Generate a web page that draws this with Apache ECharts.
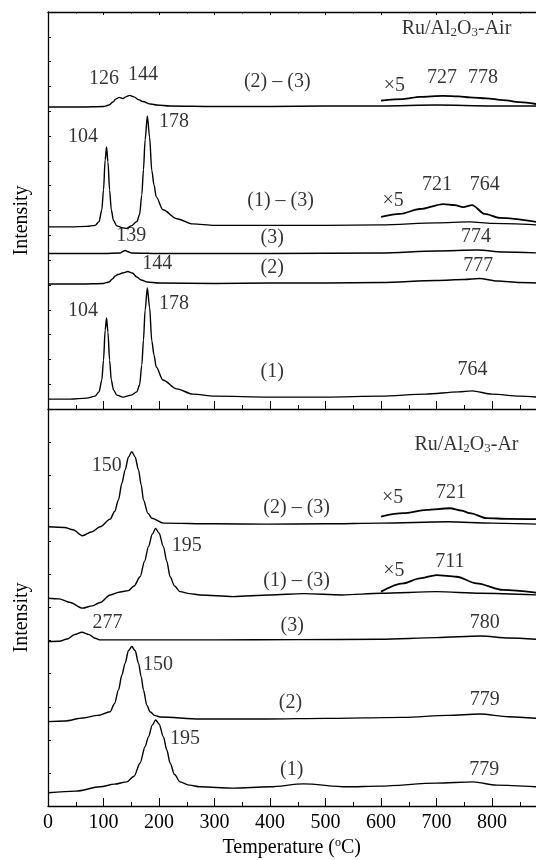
<!DOCTYPE html>
<html>
<head>
<meta charset="utf-8">
<script src="https://cdn.jsdelivr.net/npm/echarts@6/dist/echarts.min.js"></script>
<style>
html, body { margin: 0; padding: 0; background: #fff; }
#chart { width: 536px; height: 860px; }
</style>
</head>
<body>
<div id="chart"></div>
<script>
// ---- Ru/Al2O3-Air (upper panel), [temperature, intensity] ----
const air1 = [[0,0.40],[40,0.40],[70,0.44],[85,0.52],[92,0.69],[97,1.17],[100,1.97],[103,3.18],[105.5,3.67],[108,3.10],[111,1.97],[114,1.17],[118,0.77],[124,0.56],[135,0.48],[150,0.56],[160,0.69],[165,0.97],[169,1.77],[172,2.78],[175,3.99],[179,4.88],[183,4.10],[187,2.75],[191,2.18],[195,1.69],[207,1.17],[232,0.81],[261,0.60],[300,0.52],[400,0.48],[500,0.48],[600,0.52],[680,0.60],[740,0.69],[764,0.73],[800,0.60],[850,0.52],[880,0.48]];
const air2 = [[0,5.04],[60,5.04],[100,5.06],[110,5.12],[116,5.24],[121,5.36],[126,5.42],[134,5.48],[144,5.54],[152,5.48],[160,5.32],[168,5.20],[178,5.12],[200,5.08],[300,5.06],[400,5.08],[500,5.08],[600,5.10],[700,5.18],[750,5.22],[777,5.26],[810,5.16],[850,5.10],[880,5.08]];
const air3 = [[0,6.27],[100,6.27],[130,6.29],[135,6.35],[139,6.39],[143,6.35],[150,6.29],[200,6.27],[400,6.27],[600,6.29],[700,6.37],[774,6.41],[820,6.33],[880,6.29]];
const air13 = [[0,7.34],[40,7.34],[70,7.36],[85,7.40],[92,7.55],[97,8.03],[100,8.83],[103,10.04],[105.5,10.56],[108,9.96],[111,8.83],[114,8.03],[118,7.60],[124,7.38],[135,7.30],[142,7.28],[150,7.38],[160,7.55],[165,7.83],[169,8.63],[172,9.64],[175,10.85],[179,11.81],[183,10.96],[187,9.61],[191,9.04],[195,8.55],[207,8.03],[232,7.67],[261,7.46],[300,7.40],[400,7.40],[500,7.40],[600,7.42],[700,7.50],[760,7.54],[800,7.48],[880,7.42]];
const air13x5 = [[600,7.74],[634,7.86],[670,8.06],[712,8.26],[733,8.22],[748,8.14],[764,8.22],[787,7.86],[814,7.70],[880,7.54]];
const air23 = [[0,12.17],[60,12.17],[100,12.19],[110,12.25],[117,12.37],[122,12.49],[128,12.56],[135,12.51],[140,12.58],[147,12.64],[155,12.58],[163,12.47],[171,12.39],[185,12.29],[196,12.25],[220,12.21],[300,12.19],[400,12.19],[500,12.21],[600,12.21],[700,12.25],[800,12.21],[880,12.21]];
const air23x5 = [[600,12.43],[640,12.49],[670,12.58],[712,12.62],[740,12.60],[760,12.56],[790,12.52],[820,12.45],[850,12.37],[880,12.29]];

// ---- Ru/Al2O3-Ar (lower panel) ----
const ar1 = [[0,0.40],[50,0.45],[94,0.58],[120,0.66],[142,0.73],[155,0.90],[166,1.30],[175,1.80],[181,2.09],[188,2.45],[194,2.60],[200,2.48],[208,2.09],[214,1.70],[220,1.30],[228,0.95],[238,0.73],[255,0.63],[274,0.58],[333,0.54],[400,0.58],[460,0.67],[538,0.58],[598,0.60],[700,0.69],[766,0.73],[808,0.63],[880,0.58]];
const ar2 = [[0,2.55],[30,2.57],[63,2.66],[90,2.74],[112,2.85],[120,3.10],[127,3.51],[133,3.95],[139,4.32],[145,4.70],[151,4.82],[157,4.70],[163,4.32],[168,3.90],[172,3.51],[178,3.05],[184,2.85],[192,2.74],[202,2.69],[274,2.63],[394,2.63],[500,2.65],[640,2.68],[720,2.74],[778,2.78],[830,2.70],[880,2.65]];
const ar3 = [[0,4.97],[20,4.98],[35,5.05],[48,5.18],[61,5.25],[74,5.18],[85,5.07],[94,5.02],[150,5.02],[300,5.02],[450,5.03],[600,5.04],[700,5.09],[780,5.14],[830,5.08],[880,5.04]];
const ar13 = [[0,6.28],[20,6.26],[40,6.15],[62,5.98],[80,6.05],[94,6.15],[112,6.38],[130,6.47],[145,6.51],[155,6.65],[166,6.93],[174,7.40],[181,7.84],[188,8.22],[194,8.39],[200,8.25],[208,7.84],[214,7.40],[220,6.93],[228,6.65],[238,6.48],[255,6.42],[274,6.38],[333,6.33],[400,6.38],[460,6.42],[530,6.38],[600,6.43],[700,6.48],[780,6.43],[880,6.38]];
const ar13x5 = [[600,6.48],[640,6.73],[670,6.88],[700,6.98],[736,6.93],[772,6.73],[820,6.53],[880,6.45]];
const ar23 = [[0,8.44],[30,8.42],[45,8.35],[62,8.17],[78,8.28],[94,8.44],[112,8.67],[120,8.90],[127,9.25],[133,9.75],[139,10.16],[145,10.55],[151,10.71],[157,10.55],[163,10.16],[168,9.70],[172,9.25],[180,8.85],[187,8.70],[208,8.55],[300,8.53],[394,8.52],[500,8.53],[600,8.55],[720,8.59],[800,8.55],[880,8.52]];
const ar23x5 = [[600,8.75],[640,8.85],[682,8.95],[724,9.00],[745,8.93],[760,8.85],[790,8.70],[830,8.68],[880,8.67]];

// annotations: [text, temperature, intensity]
const airLabels = [
  ['{a|Ru/Al}{s|2}{a|O}{s|3}{a|-Air}', 736, 15.34],
  ['126', 101, 13.30], ['144', 171, 13.46], ['(2) – (3)', 413, 13.18],
  ['×5', 624, 13.02], ['727', 710, 13.34], ['778', 784, 13.34],
  ['104', 63, 10.96], ['178', 227, 11.57], ['(1) – (3)', 419, 8.38],
  ['×5', 622, 8.38], ['721', 701, 9.05], ['764', 787, 9.05],
  ['139', 150, 6.99], ['(3)', 404, 6.91], ['774', 771, 6.95],
  ['144', 197, 5.84], ['(2)', 404, 5.68], ['777', 775, 5.76],
  ['104', 63, 3.95], ['178', 227, 4.23], ['(1)', 404, 1.49], ['764', 765, 1.59]
];
const arLabels = [
  ['{a|Ru/Al}{s|2}{a|O}{s|3}{a|-Ar}', 754, 10.93],
  ['150', 106, 10.29], ['(2) – (3)', 448, 9.01], ['×5', 621, 9.33], ['721', 726, 9.48],
  ['195', 250, 7.87], ['(1) – (3)', 448, 6.82], ['×5', 623, 7.10], ['711', 724, 7.39],
  ['277', 107, 5.55], ['(3)', 440, 5.46], ['780', 787, 5.55],
  ['150', 198, 4.28], ['(2)', 437, 3.13], ['779', 787, 3.20],
  ['195', 247, 2.04], ['(1)', 439, 1.10], ['779', 786, 1.09]
];

const font = '"Liberation Serif", "Times New Roman", serif';
const black = '#000';

function xAx(grid, pos, labels, tickLen) {
  return {
    type: 'value', gridIndex: grid, position: pos, min: 0, max: 900, interval: 100,
    axisLine: { show: true, onZero: false, lineStyle: { color: black, width: 1.3 } },
    axisTick: { show: true, inside: true, length: tickLen, lineStyle: { color: black, width: 1 } },
    minorTick: { show: true, splitNumber: 2, length: tickLen / 2, lineStyle: { color: black, width: 1 } },
    splitLine: { show: false },
    axisLabel: { show: labels, showMaxLabel: false, margin: 7, color: black, fontFamily: font, fontSize: 20 }
  };
}
function yAx(grid, max) {
  return {
    type: 'value', gridIndex: grid, min: 0, max: max, interval: 1,
    name: 'Intensity', nameLocation: 'middle', nameGap: 16,
    nameTextStyle: { color: black, fontFamily: font, fontSize: 20, padding: [0, 20, 0, 0] },
    axisLine: { show: true, onZero: false, lineStyle: { color: black, width: 1.3 } },
    axisTick: { show: true, inside: true, length: 3, lineStyle: { color: black } },
    axisLabel: { show: false },
    splitLine: { show: false }
  };
}
function trace(data, xi, yi, w) {
  return {
    type: 'line', xAxisIndex: xi, yAxisIndex: yi, data: data,
    showSymbol: false, smooth: 0.3, smoothMonotone: 'x', silent: true,
    lineStyle: { color: black, width: w || 1.4 }
  };
}
const rich = {
  a: { fontFamily: font, fontSize: 20, color: black, lineHeight: 22 },
  s: { fontFamily: font, fontSize: 13, color: black, lineHeight: 22, verticalAlign: 'bottom', padding: [6, 0, 0, 0] }
};
function labels(list, xi, yi) {
  return {
    type: 'scatter', xAxisIndex: xi, yAxisIndex: yi, symbolSize: 1, silent: true, z: 5,
    itemStyle: { color: 'rgba(0,0,0,0)' },
    label: {
      show: true, position: 'inside', color: black, fontFamily: font, fontSize: 20,
      formatter: (p) => p.name, rich: rich
    },
    data: list.map((l) => ({ name: l[0], value: [l[1], l[2]] }))
  };
}

const chart = echarts.init(document.getElementById('chart'));
const bottomX = xAx(1, 'bottom', true, 8);
bottomX.name = '{a|Temperature (}{o|o}{a|C)}';
bottomX.nameLocation = 'middle';
bottomX.nameGap = 31;
bottomX.nameTextStyle = {
  color: black, fontFamily: font, fontSize: 20, padding: [0, 12, 0, 0],
  rich: {
    a: { fontFamily: font, fontSize: 20, color: black, lineHeight: 22 },
    o: { fontFamily: font, fontSize: 12, color: black, lineHeight: 22, verticalAlign: 'top', padding: [0, 0, 8, 0] }
  }
};

chart.setOption({
  animation: false,
  backgroundColor: '#fff',
  grid: [
    { left: 48, top: 12, width: 499.5, height: 397, outerBoundsMode: 'none' },
    { left: 48, top: 409, width: 499.5, height: 397, outerBoundsMode: 'none' }
  ],
  xAxis: [xAx(0, 'bottom', false, 8), xAx(0, 'top', false, 3), bottomX],
  yAxis: [yAx(0, 16), yAx(1, 12)],
  series: [
    trace(air1, 0, 0), trace(air2, 0, 0), trace(air3, 0, 0),
    trace(air13, 0, 0), trace(air13x5, 0, 0, 1.8),
    trace(air23, 0, 0), trace(air23x5, 0, 0, 1.8),
    trace(ar1, 2, 1), trace(ar2, 2, 1), trace(ar3, 2, 1),
    trace(ar13, 2, 1), trace(ar13x5, 2, 1, 1.8),
    trace(ar23, 2, 1), trace(ar23x5, 2, 1, 1.8),
    labels(airLabels, 0, 0), labels(arLabels, 2, 1)
  ]
});
</script>
</body>
</html>
